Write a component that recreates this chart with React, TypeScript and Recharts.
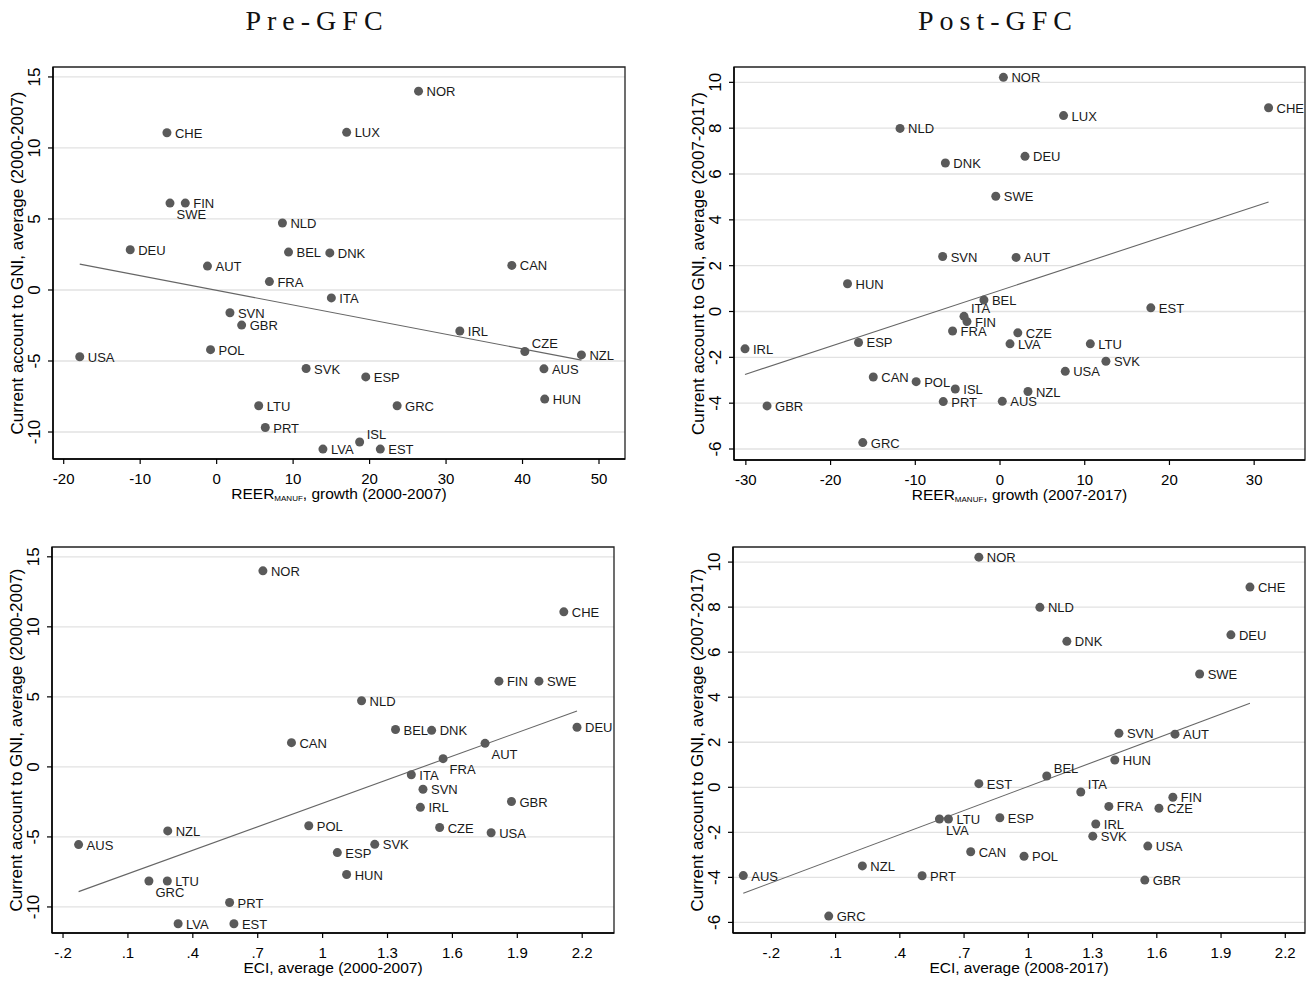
import React from "react";
import {
  CartesianGrid,
  ReferenceArea,
  ReferenceLine,
  Scatter,
  ScatterChart,
  XAxis,
  YAxis,
} from "recharts";

// Countries, in one fixed order; null = not in that sample
const COUNTRIES = [
  "NOR", "CHE", "LUX", "FIN", "SWE", "NLD", "DEU", "BEL", "DNK", "AUT",
  "CAN", "FRA", "ITA", "SVN", "GBR", "IRL", "CZE", "NZL", "POL", "USA",
  "SVK", "AUS", "ESP", "HUN", "GRC", "LTU", "PRT", "ISL", "LVA", "EST",
];

// Current account to GNI, average
const CA_PRE = [
  14.0, 11.07, 11.1, 6.12, 6.12, 4.72, 2.83, 2.67, 2.61, 1.68,
  1.73, 0.59, -0.56, -1.6, -2.47, -2.89, -4.33, -4.57, -4.2, -4.7,
  -5.53, -5.55, -6.12, -7.68, -8.15, -8.15, -9.68, -10.7, -11.2, -11.2,
];
const CA_POST = [
  10.22, 8.89, 8.55, -0.44, 5.03, 7.99, 6.77, 0.5, 6.48, 2.36,
  -2.86, -0.85, -0.21, 2.4, -4.12, -1.63, -0.93, -3.49, -3.06, -2.61,
  -2.17, -3.92, -1.35, 1.21, -5.72, -1.41, -3.93, -3.38, -1.41, 0.16,
];

// REER (manufacturing) growth
const REER_PRE = [
  26.4, -6.5, 17.0, -4.1, -6.1, 8.6, -11.3, 9.4, 14.8, -1.2,
  38.6, 6.9, 15.0, 1.74, 3.27, 31.8, 40.3, 47.7, -0.8, -17.9,
  11.7, 42.8, 19.5, 42.9, 23.6, 5.5, 6.36, 18.7, 13.9, 21.4,
];
const REER_POST = [
  0.4, 31.7, 7.5, -3.9, -0.5, -11.8, 2.95, -1.9, -6.45, 1.9,
  -14.96, -5.6, -4.25, -6.77, -27.5, -30.1, 2.1, 3.3, -9.9, 7.7,
  12.5, 0.27, -16.7, -18.0, -16.2, 10.66, -6.7, -5.28, 1.18, 17.8,
];

// Economic complexity index, average
const ECI_PRE = [
  0.724, 2.115, null, 1.815, 2.0, 1.18, 2.176, 1.337, 1.504, 1.751,
  0.856, 1.557, 1.41, 1.464, 1.873, 1.452, 1.541, 0.284, 0.936, 1.779,
  1.241, -0.128, 1.068, 1.111, 0.197, 0.282, 0.57, null, 0.332, 0.59,
];
const ECI_POST = [
  0.769, 2.035, null, 1.675, 1.8, 1.054, 1.946, 1.086, 1.18, 1.685,
  0.731, 1.376, 1.245, 1.423, 1.544, 1.315, 1.61, 0.225, 0.98, 1.558,
  1.301, -0.331, 0.867, 1.404, 0.068, 0.627, 0.504, null, 0.585, 0.769,
];

// tick labels
const REER_PRE_TICKS = [-20, -10, 0, 10, 20, 30, 40, 50];
const REER_POST_TICKS = [-30, -20, -10, 0, 10, 20, 30];
const ECI_TICKS = [-0.2, 0.1, 0.4, 0.7, 1, 1.3, 1.6, 1.9, 2.2];
const CA_PRE_TICKS = [-10, -5, 0, 5, 10, 15];
const CA_POST_TICKS = [-6, -4, -2, 0, 2, 4, 6, 8, 10];

const FONT = "'Liberation Sans', Arial, Helvetica, sans-serif";
const DOT = "#5a5a5a";

// label placement (default: to the right of the dot)
const LABEL_OFFSETS: Record<string, { dx: number; dy: number }> = {
  r: { dx: 8, dy: 0.5 },
  ur: { dx: 7, dy: -8 },
  dr: { dx: 6.5, dy: 11 },
};

type Row = { name: string; x: number; y: number };

const rows = (xs: (number | null)[], ys: number[]): Row[] =>
  COUNTRIES.map((name, i) => ({ name, x: xs[i] as number, y: ys[i] })).filter(
    (d) => d.x !== null && d.x !== undefined
  );

// OLS fit line across the x-range of the data
function fitLine(data: Row[]) {
  const n = data.length;
  const mx = data.reduce((s, d) => s + d.x, 0) / n;
  const my = data.reduce((s, d) => s + d.y, 0) / n;
  let sxy = 0;
  let sxx = 0;
  data.forEach((d) => {
    sxy += (d.x - mx) * (d.y - my);
    sxx += (d.x - mx) * (d.x - mx);
  });
  const b = sxy / sxx;
  const a = my - b * mx;
  const x0 = Math.min(...data.map((d) => d.x));
  const x1 = Math.max(...data.map((d) => d.x));
  return [
    { x: x0, y: a + b * x0 },
    { x: x1, y: a + b * x1 },
  ];
}

const eciFmt = (v: number) => String(v).replace(/^(-?)0\./, "$1.");

interface PanelProps {
  data: Row[];
  rect: { l: number; t: number; r: number; b: number };
  xDomain: [number, number];
  yDomain: [number, number];
  xTicks: number[];
  yTicks: number[];
  xFmt?: (v: number) => string;
  xTitle: React.ReactNode;
  yTitle: string;
  labelPos: Record<string, string>;
}

const Y_W = 53;
const M_TOP = 20;
const X_H = 50;
const M_RIGHT = 6;

function Panel({ data, rect, xDomain, yDomain, xTicks, yTicks, xFmt, xTitle, yTitle, labelPos }: PanelProps) {
  const plotW = rect.r - rect.l;
  const plotH = rect.b - rect.t;
  const width = Y_W + plotW + M_RIGHT;
  const height = M_TOP + plotH + X_H;
  const line = fitLine(data);

  const renderPoint = (props: any) => {
    const { cx, cy, payload } = props;
    const off = LABEL_OFFSETS[labelPos[payload.name] ?? "r"];
    return (
      <g>
        <circle cx={cx} cy={cy} r={4.5} fill={DOT} />
        <text
          x={cx + off.dx}
          y={cy + off.dy}
          dy="0.35em"
          fontSize={13}
          fontFamily={FONT}
          fill="#1a1a1a"
        >
          {payload.name}
        </text>
      </g>
    );
  };

  const yTick = (props: any) => {
    const { x, y, payload } = props;
    return (
      <text
        x={x}
        y={y}
        transform={`rotate(-90 ${x} ${y})`}
        textAnchor="middle"
        fontSize={17}
        fontFamily={FONT}
        fill="#000"
      >
        {payload.value}
      </text>
    );
  };

  return (
    <div style={{ position: "absolute", left: rect.l - Y_W, top: rect.t - M_TOP }}>
      <ScatterChart
        width={width}
        height={height}
        margin={{ top: M_TOP, right: M_RIGHT, bottom: 0, left: 0 }}
      >
        <CartesianGrid vertical={false} stroke="#e2e2e2" strokeWidth={1.3} horizontalValues={yTicks} />
        <XAxis
          type="number"
          dataKey="x"
          domain={xDomain}
          ticks={xTicks}
          allowDataOverflow
          height={X_H}
          tickSize={5}
          tickMargin={9}
          tickFormatter={xFmt}
          interval={0}
          axisLine={{ stroke: "#000", strokeWidth: 1.5 }}
          tickLine={{ stroke: "#000", strokeWidth: 1.2 }}
          tick={{ fontSize: 15, fontFamily: FONT, fill: "#000" }}
          label={() => (
            <text
              x={Y_W + plotW / 2}
              y={M_TOP + plotH + 40}
              textAnchor="middle"
              fontSize={15.5}
              fontFamily={FONT}
              fill="#000"
            >
              {xTitle}
            </text>
          )}
        />
        <YAxis
          type="number"
          dataKey="y"
          domain={yDomain}
          ticks={yTicks}
          allowDataOverflow
          width={Y_W}
          tickSize={5}
          tickMargin={8}
          interval={0}
          axisLine={{ stroke: "#000", strokeWidth: 1.5 }}
          tickLine={{ stroke: "#000", strokeWidth: 1.2 }}
          tick={yTick}
          label={() => (
            <text
              x={23}
              y={M_TOP + plotH / 2}
              transform={`rotate(-90 23 ${M_TOP + plotH / 2})`}
              textAnchor="middle"
              fontSize={17}
              fontFamily={FONT}
              fill="#000"
            >
              {yTitle}
            </text>
          )}
        />
        <ReferenceArea
          x1={xDomain[0]}
          x2={xDomain[1]}
          y1={yDomain[0]}
          y2={yDomain[1]}
          fill="none"
          fillOpacity={0}
          stroke="#222"
          strokeWidth={1.3}
          ifOverflow="visible"
        />
        <ReferenceLine segment={line} stroke="#666" strokeWidth={1.1} ifOverflow="visible" />
        <Scatter data={data} shape={renderPoint} isAnimationActive={false} />
      </ScatterChart>
    </div>
  );
}

const reerTitle = (years: string) => (
  <>
    <tspan>REER</tspan>
    <tspan fontSize={8} dy={2}>MANUF</tspan>
    <tspan dy={-2}>, growth ({years})</tspan>
  </>
);

const titleStyle: React.CSSProperties = {
  position: "absolute",
  top: 5,
  width: 300,
  textAlign: "center",
  fontFamily: "'Liberation Serif', 'DejaVu Serif', serif",
  fontSize: 28,
  lineHeight: "32px",
  letterSpacing: 6,
  color: "#111",
};

export default function App() {
  return (
    <div style={{ position: "absolute", left: 0, top: 0, width: 1311, height: 983, background: "#fff", overflow: "hidden" }}>
      <div style={{ ...titleStyle, left: 167 }}>Pre-GFC</div>
      <div style={{ ...titleStyle, left: 848 }}>Post-GFC</div>

      <Panel
        data={rows(REER_PRE, CA_PRE)}
        rect={{ l: 53, t: 67, r: 625, b: 459 }}
        xDomain={[-21.4, 53.4]}
        yDomain={[-11.9, 15.7]}
        xTicks={REER_PRE_TICKS}
        yTicks={CA_PRE_TICKS}
        xTitle={reerTitle("2000-2007")}
        yTitle="Current account to GNI, average (2000-2007)"
        labelPos={{ SWE: "dr", ISL: "ur", CZE: "ur" }}
      />
      <Panel
        data={rows(REER_POST, CA_POST)}
        rect={{ l: 734, t: 67, r: 1305, b: 460 }}
        xDomain={[-31.4, 36.0]}
        yDomain={[-6.48, 10.67]}
        xTicks={REER_POST_TICKS}
        yTicks={CA_POST_TICKS}
        xTitle={reerTitle("2007-2017")}
        yTitle="Current account to GNI, average (2007-2017)"
        labelPos={{ ITA: "ur" }}
      />
      <Panel
        data={rows(ECI_PRE, CA_PRE)}
        rect={{ l: 52, t: 547, r: 614, b: 933 }}
        xDomain={[-0.251, 2.347]}
        yDomain={[-11.86, 15.7]}
        xTicks={ECI_TICKS}
        yTicks={CA_PRE_TICKS}
        xFmt={eciFmt}
        xTitle="ECI, average (2000-2007)"
        yTitle="Current account to GNI, average (2000-2007)"
        labelPos={{ AUT: "dr", FRA: "dr", GRC: "dr" }}
      />
      <Panel
        data={rows(ECI_POST, CA_POST)}
        rect={{ l: 733, t: 547, r: 1305, b: 933 }}
        xDomain={[-0.379, 2.292]}
        yDomain={[-6.47, 10.67]}
        xTicks={ECI_TICKS}
        yTicks={CA_POST_TICKS}
        xFmt={eciFmt}
        xTitle="ECI, average (2008-2017)"
        yTitle="Current account to GNI, average (2007-2017)"
        labelPos={{ LVA: "dr", BEL: "ur", ITA: "ur" }}
      />
    </div>
  );
}
